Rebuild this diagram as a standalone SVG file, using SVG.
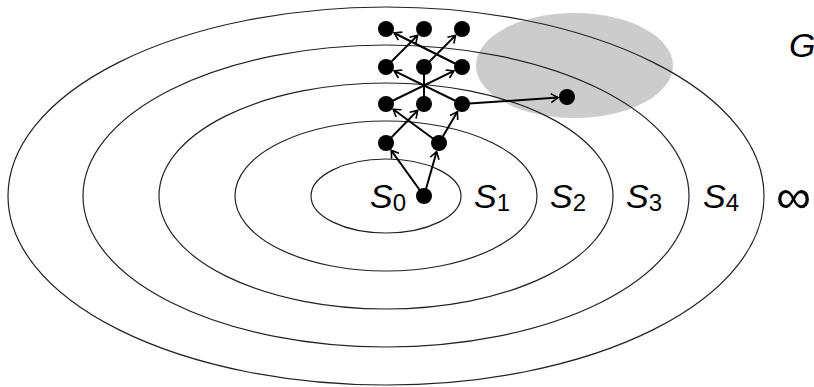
<svg xmlns="http://www.w3.org/2000/svg" width="814" height="387" viewBox="0 0 814 387">
<style>
.ring{fill:none;stroke:#222;stroke-width:1.2}
.goal{fill:#cccccc;stroke:none}
.edge{stroke:#000;stroke-width:2;fill:none}
.arr{marker-end:url(#ah)}
.node{fill:#000}
.lbl{font-family:"Liberation Sans",Arial,sans-serif;font-style:italic;font-size:34px;fill:#000}
.sub{font-style:normal;font-size:24px}
.inf{font-family:"Liberation Sans",Arial,sans-serif;font-size:48px;fill:#000}
</style>
<defs>
<marker id="ah" markerUnits="userSpaceOnUse" markerWidth="14" markerHeight="14" refX="0" refY="0" viewBox="-9 -7 12 14" orient="auto">
<path d="M-7,-4.5 L0,0 L-7,4.5" fill="none" stroke="#000" stroke-width="1.6"/>
</marker>
</defs>
<g id="goal-region"><ellipse class="goal" cx="574.5" cy="65.5" rx="98.5" ry="52.5"/></g>
<g id="rings">
<ellipse class="ring" cx="386" cy="196" rx="75" ry="37"/>
<ellipse class="ring" cx="386" cy="196" rx="151" ry="75"/>
<ellipse class="ring" cx="386" cy="196" rx="227" ry="113"/>
<ellipse class="ring" cx="386" cy="196" rx="303" ry="151"/>
<ellipse class="ring" cx="386" cy="196" rx="378" ry="189"/>
</g>
<g id="connectors">
<line class="edge arr" x1="424" y1="196" x2="391.2" y2="150.3"/>
<line class="edge arr" x1="424" y1="196" x2="436.6" y2="151.7"/>
<line class="edge arr" x1="386" y1="143" x2="417.7" y2="110.4"/>
<line class="edge arr" x1="439" y1="143" x2="393.2" y2="109.3"/>
<line class="edge arr" x1="439" y1="143" x2="457.4" y2="111.7"/>
<line class="edge arr" x1="386" y1="104" x2="453.9" y2="70.9"/>
<line class="edge arr" x1="462" y1="104" x2="394.1" y2="70.9"/>
<line class="edge" x1="424" y1="104" x2="424" y2="67"/>
<line class="edge arr" x1="386" y1="67" x2="417.6" y2="35.4"/>
<line class="edge arr" x1="424" y1="67" x2="455.6" y2="35.4"/>
<line class="edge arr" x1="462" y1="67" x2="394.1" y2="33"/>
<line class="edge arr" x1="462" y1="104" x2="558" y2="97.6"/>
</g>
<g id="n-root"><circle class="node" cx="424" cy="196" r="8"/></g>
<g id="n-a1"><circle class="node" cx="386" cy="143" r="8"/></g>
<g id="n-a2"><circle class="node" cx="439" cy="143" r="8"/></g>
<g id="n-b1"><circle class="node" cx="386" cy="104" r="8"/></g>
<g id="n-b2"><circle class="node" cx="424" cy="104" r="8"/></g>
<g id="n-b3"><circle class="node" cx="462" cy="104" r="8"/></g>
<g id="n-c1"><circle class="node" cx="386" cy="67" r="8"/></g>
<g id="n-c2"><circle class="node" cx="424" cy="67" r="8"/></g>
<g id="n-c3"><circle class="node" cx="462" cy="67" r="8"/></g>
<g id="n-d1"><circle class="node" cx="386" cy="29" r="8"/></g>
<g id="n-d2"><circle class="node" cx="424" cy="29" r="8"/></g>
<g id="n-d3"><circle class="node" cx="462" cy="29" r="8"/></g>
<g id="n-goal"><circle class="node" cx="567" cy="97" r="8"/></g>
<g id="labels">
<text class="lbl" x="370" y="208">S<tspan class="sub" dy="3">0</tspan></text>
<text class="lbl" x="474" y="208">S<tspan class="sub" dy="3">1</tspan></text>
<text class="lbl" x="550" y="208">S<tspan class="sub" dy="3">2</tspan></text>
<text class="lbl" x="626" y="208">S<tspan class="sub" dy="3">3</tspan></text>
<text class="lbl" x="703" y="208">S<tspan class="sub" dy="3">4</tspan></text>
<text class="inf" x="776" y="213" textLength="35" lengthAdjust="spacingAndGlyphs">∞</text>
<text class="lbl" x="789" y="57">G</text>
</g>
</svg>
